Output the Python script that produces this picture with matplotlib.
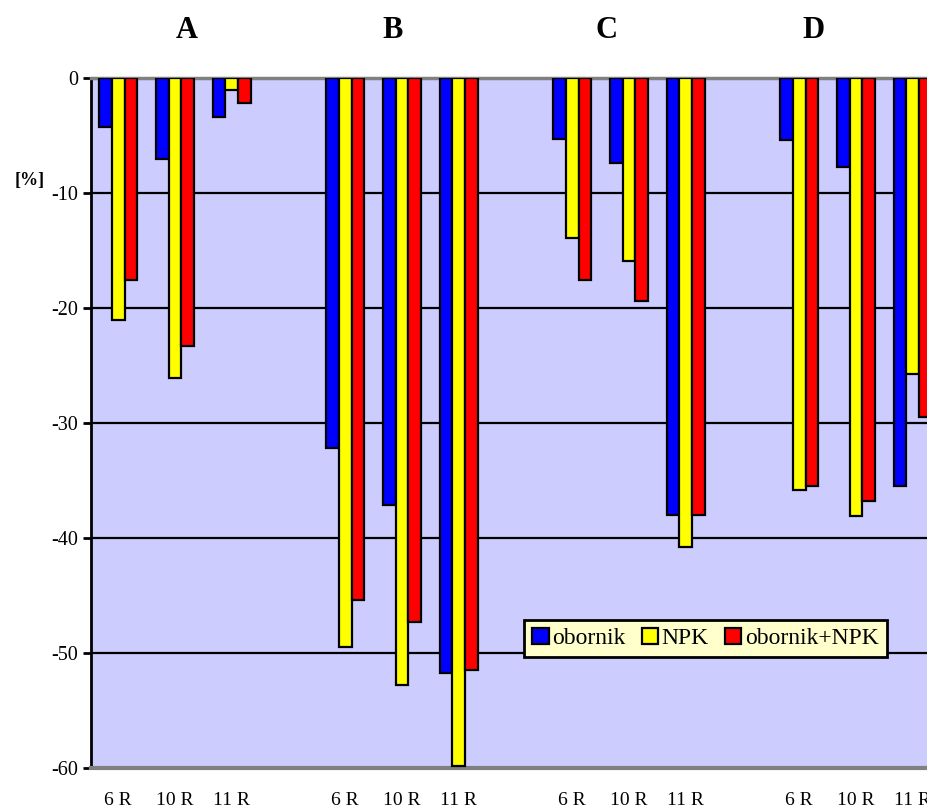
import numpy as np
import matplotlib
matplotlib.use('Agg')
import matplotlib.pyplot as plt

plt.rcParams['font.family'] = ['Liberation Serif', 'DejaVu Serif']
plt.rcParams['axes.unicode_minus'] = False

groups = ['A', 'B', 'C', 'D']
periods = ['6 R', '10 R', '11 R']
series = ['obornik', 'NPK', 'obornik+NPK']
obornik = [-4.3, -7.0, -3.4, -32.2, -37.1, -51.7, -5.3, -7.4, -38.0, -5.4, -7.7, -35.5]
npk = [-21.0, -26.1, -1.0, -49.5, -52.8, -59.8, -13.9, -15.9, -40.8, -35.8, -38.1, -25.7]
mix = [-17.6, -23.3, -2.2, -45.4, -47.3, -51.5, -17.6, -19.4, -38.0, -35.5, -36.8, -29.5]
colors = ['#0000ff', '#ffff00', '#ff0000']

W, H = 928, 807
fig = plt.figure(figsize=(W / 100, H / 100), dpi=100)
slot = 56.75
left, top, bottom = 91, 78, 768
# axes is wider than the figure: the original picture is cut on the right
ax = fig.add_axes([left / W, (H - bottom) / H, 15.5 * slot / W, (bottom - top) / H])
ax.set_facecolor('#ccccff')

x = np.array([g * 4 + p for g in range(4) for p in range(3)])
bw = 0.224
for k, (vals, c) in enumerate(zip([obornik, npk, mix], colors)):
    ax.bar(x + (k - 1) * bw, vals, bw, color=c, edgecolor='black', linewidth=1.6,
           label=series[k], zorder=3)

ax.set_xlim(-0.48, 15.02)
ax.set_ylim(-60, 0)
ax.set_yticks(np.arange(-60, 1, 10))
ax.yaxis.grid(True, color='black', linewidth=1.6, zorder=1)
ax.set_xticks(x)
ax.set_xticklabels([periods[i % 3] for i in range(len(x))], fontsize=14)
ax.tick_params(axis='x', length=0, pad=17)
ax.tick_params(axis='y', length=6, width=2, labelsize=14.5, pad=3)
ax.spines['left'].set_linewidth(2)
ax.spines['top'].set_color('#808080')
ax.spines['top'].set_linewidth(2.5)
ax.spines['bottom'].set_color('#808080')
ax.spines['bottom'].set_linewidth(3)
ax.spines['right'].set_visible(False)

for g, px in zip(groups, [187, 393, 607, 814]):
    fig.text(px / W, 1 - 30 / H, g, ha='center', va='center', fontsize=22, fontweight='bold')
fig.text(30 / W, 1 - 180 / H, '[%]', ha='center', va='center', fontsize=13, fontweight='bold')

leg = ax.legend(loc='center', bbox_to_anchor=(705.5 / W, 168.5 / H),
                bbox_transform=fig.transFigure, ncol=3, fontsize=17, frameon=True,
                fancybox=False, handlelength=0.68, handleheight=0.68,
                handletextpad=0.15, columnspacing=0.7, borderpad=0.35, borderaxespad=0)
leg.get_frame().set_facecolor('#ffffcc')
leg.get_frame().set_edgecolor('black')
leg.get_frame().set_linewidth(2)
leg.get_frame().set_alpha(1)

fig.savefig('out.png', dpi=100)
